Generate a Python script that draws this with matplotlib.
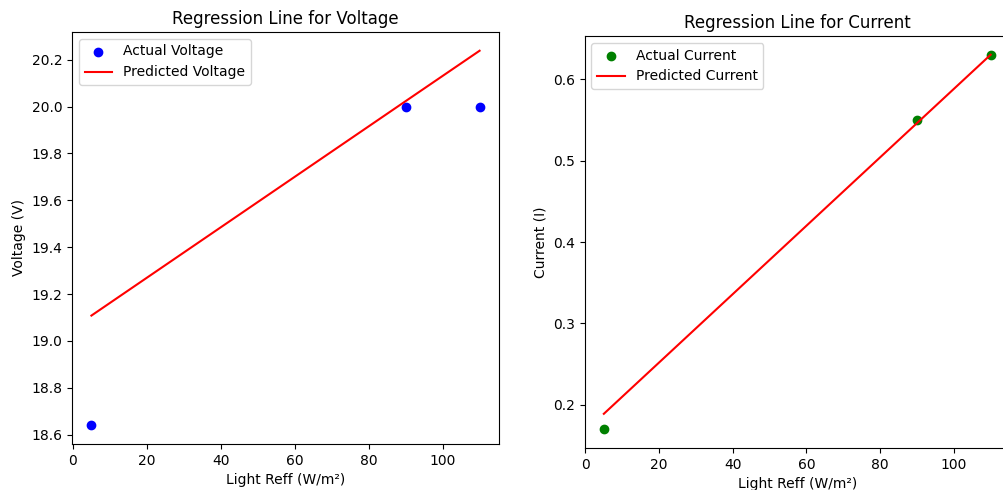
import matplotlib
matplotlib.use("Agg")
import matplotlib.pyplot as plt

light = [5, 90, 110]
voltage_actual = [18.64, 20.0, 20.0]
voltage_pred = [19.108, 20.023, 20.238]
current_actual = [0.17, 0.55, 0.63]
current_pred = [0.189, 0.546, 0.630]

fig = plt.figure(figsize=(10.04, 4.9), dpi=100)
ax1 = fig.add_axes([72 / 1004, 46 / 490, 427 / 1004, 412 / 490])
ax2 = fig.add_axes([584.5 / 1004, 42 / 490, 425.5 / 1004, 412 / 490])

ax1.scatter(light, voltage_actual, color='blue', label='Actual Voltage')
ax1.plot(light, voltage_pred, color='red', label='Predicted Voltage')
ax1.set_title('Regression Line for Voltage')
ax1.set_xlabel('Light Reff (W/m²)')
ax1.set_ylabel('Voltage (V)')
ax1.legend(loc='upper left')

ax2.scatter(light, current_actual, color='green', label='Actual Current')
ax2.plot(light, current_pred, color='red', label='Predicted Current')
ax2.set_title('Regression Line for Current')
ax2.set_xlabel('Light Reff (W/m²)')
ax2.set_ylabel('Current (I)')
ax2.legend(loc='upper left')

fig.savefig('out.png', dpi=100)
